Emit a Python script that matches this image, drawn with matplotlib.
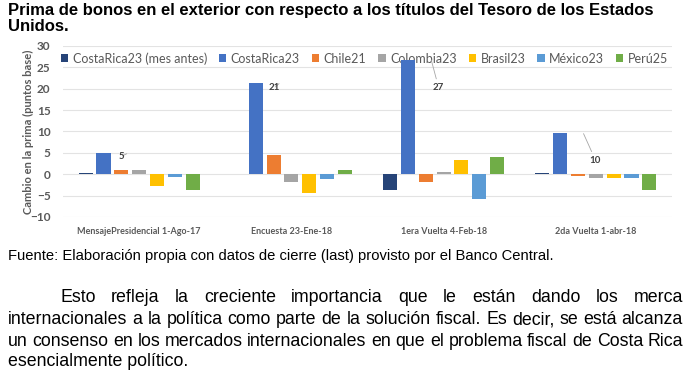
import numpy as np
import matplotlib
matplotlib.use("Agg")
import matplotlib.pyplot as plt

# datos del grafico (cambio en la prima, puntos base)
eventos = ["MensajePresidencial 1-Ago-17", "Encuesta 23-Ene-18",
           "1era Vuelta 4-Feb-18", "2da Vuelta 1-abr-18"]
series = ["CostaRica23 (mes antes)", "CostaRica23", "Chile21", "Colombia23",
          "Brasil23", "México23", "Perú25"]
cr23_mes_antes = [0.4, 0.0, -3.8, 0.4]
cr23 = [4.9, 21.3, 26.8, 9.6]
chile21 = [1.1, 4.6, -1.7, -0.5]
colombia23 = [0.9, -1.9, 0.5, -0.9]
brasil23 = [-2.8, -4.4, 3.4, -0.8]
mexico23 = [-0.7, -1.2, -5.8, -0.8]
peru25 = [-3.8, 0.9, 4.1, -3.7]
etiquetas = [5, 21, 27, 10]
colores = ["#264478", "#4472C4", "#ED7D31", "#A5A5A5", "#FFC000", "#5B9BD5", "#70AD47"]

titulo = ("Prima de bonos en el exterior con respecto a los títulos del Tesoro de los Estados\n"
          "Unidos.")
fuente = "Fuente: Elaboración propia con datos de cierre (last) provisto por el Banco Central."
linea1 = "Esto refleja la creciente importancia que le están dando los merca"
linea2 = "internacionales a la política como parte de la solución fiscal. Es decir, se está alcanza"
linea3 = "un consenso en los mercados internacionales en que el problema fiscal de Costa Rica"
linea4 = "esencialmente político."

fig = plt.figure(figsize=(6.84, 3.87), dpi=100)
W, H = 684.0, 387.0
ax = fig.add_axes([63 / W, 1 - 217 / H, (672 - 63) / W, (217 - 46) / H])

datos = [cr23_mes_antes, cr23, chile21, colombia23, brasil23, mexico23, peru25]
x = np.arange(len(eventos))
paso = 0.117
ancho = 0.092
for j, (nombre, vals) in enumerate(zip(series, datos)):
    ax.bar(x + (j - 3) * paso, vals, ancho, color=colores[j], label=nombre, zorder=3)

# etiquetas de CostaRica23 con linea guia
pos_txt = [(-0.135, 4.2), (0.85, 20.2), (1.93, 20.3), (2.96, 3.3)]
for i, (val, lab) in enumerate(zip(cr23, etiquetas)):
    ax.annotate(str(lab), xy=(x[i] - paso + ancho / 2 - 0.01, val - 0.1),
                xytext=pos_txt[i], fontsize=7, fontweight="bold", color="#404040",
                family="Lato", va="center", ha="left",
                arrowprops=dict(arrowstyle="-", color="#A6A6A6", lw=0.6,
                                shrinkA=1, shrinkB=0), zorder=4)

ax.set_ylim(-10, 30)
ax.set_xlim(-0.5, 3.5)
ax.set_yticks(range(-10, 31, 5))
ax.yaxis.grid(True, color="#E3E3E3", lw=0.8, zorder=0)
ax.set_axisbelow(True)
for s in ax.spines.values():
    s.set_visible(False)
ax.tick_params(length=0)
ax.set_xticks(x)
ax.set_xticklabels(eventos, fontsize=6.5, fontweight="bold", color="#595959", family="Lato")
ax.tick_params(axis="x", pad=7)
ax.tick_params(axis="y", pad=9)
for t in ax.get_yticklabels():
    t.set_fontsize(8.5)
    t.set_color("#595959")
    t.set_family("Lato")
    t.set_fontweight("bold")
ax.set_ylabel("Cambio en la prima (puntos base)", fontsize=8, fontweight="bold",
              color="#595959", family="Lato", labelpad=-3)

leg = ax.legend(loc="upper center", bbox_to_anchor=(0.495, 1.03), ncol=7, frameon=False,
                handlelength=0.6, handleheight=0.6, handletextpad=0.35,
                columnspacing=0.95, prop={"family": "Lato", "size": 9.0})
for t in leg.get_texts():
    t.set_color("#595959")
leg.set_zorder(1)

fig.text(8 / W, 1 - 3 / H, titulo, fontsize=12, fontweight="bold",
         family="Liberation Sans", va="top", ha="left", linespacing=1.12)
fig.text(8 / W, 1 - 256 / H, fuente, fontsize=10.6, family="Liberation Sans",
         va="center", ha="left")

renderer = fig.canvas.get_renderer()


def justificar(texto, x0, x1, y, size=12.8):
    # coloca las palabras repartiendo el espacio entre x0 y x1 (pixeles)
    palabras = texto.split()
    objs = [fig.text(0, 1 - y / H, p, fontsize=size, family="Liberation Sans",
                     va="center", ha="left") for p in palabras]
    anchos = [o.get_window_extent(renderer).width for o in objs]
    hueco = (x1 - x0 - sum(anchos)) / (len(palabras) - 1)
    pos = x0
    for o, a in zip(objs, anchos):
        o.set_x(pos / W)
        pos += a + hueco


justificar(linea1, 60, 683, 298)
justificar(linea2, 8, 683, 320)
justificar(linea3, 8, 683, 342)
fig.text(8 / W, 1 - 362 / H, linea4, fontsize=12.8, family="Liberation Sans",
         va="center", ha="left")

fig.savefig("out.png", dpi=100)
